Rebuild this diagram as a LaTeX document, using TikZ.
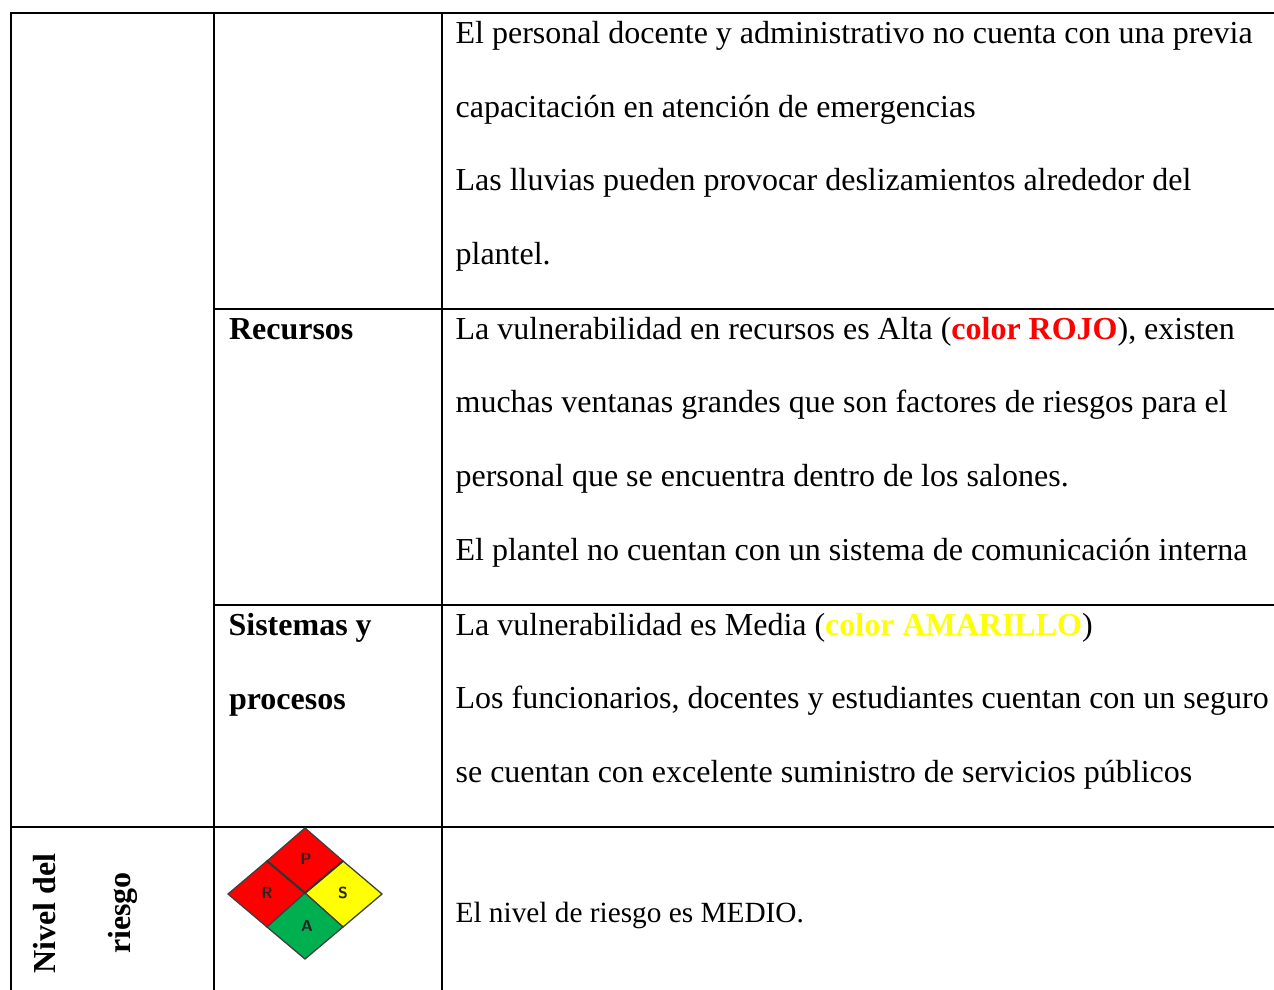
\documentclass[tikz,border=0pt]{standalone}
\usepackage{fontspec}
\setmainfont{Liberation Serif}
\definecolor{rojo}{RGB}{255,0,0}
\definecolor{amar}{RGB}{255,255,0}
\definecolor{verde}{RGB}{0,176,80}
\begin{document}
\begin{tikzpicture}[x=1pt,y=-1pt,
  rule/.style={draw=black,line width=2pt},
  body/.style={anchor=base west,inner sep=0pt,outer sep=0pt,font=\fontsize{32}{32}\selectfont},
  head/.style={anchor=base west,inner sep=0pt,outer sep=0pt,font=\fontsize{32}{32}\selectfont\bfseries},
  small/.style={anchor=base west,inner sep=0pt,outer sep=0pt,font=\fontsize{29.3}{30}\selectfont},
  vert/.style={rotate=90,anchor=base,inner sep=0pt,outer sep=0pt,font=\fontsize{32}{32}\selectfont\bfseries},
  cell/.style={draw=black!75,line width=1.3pt},
  letter/.style={inner sep=0pt,font=\sffamily\bfseries\fontsize{16}{16}\selectfont,text=black!85}]
\useasboundingbox (0,0) rectangle (1274,990);
\fill[white] (0,0) rectangle (1274,990);
% grid
\coordinate (tl) at (11,13); \coordinate (tr) at (1274,13);
\coordinate (ll) at (11,990);
\coordinate (ma) at (214,13); \coordinate (mb) at (214,990);
\coordinate (na) at (442,13); \coordinate (nb) at (442,990);
\coordinate (r1a) at (214,308.5); \coordinate (r1b) at (1274,308.5);
\coordinate (r2a) at (214,604.5); \coordinate (r2b) at (1274,604.5);
\coordinate (r3a) at (11,827); \coordinate (r3b) at (1274,827);
\draw[rule,line cap=rect] (tl) -- (tr);
\draw[rule] (tl) -- (ll);
\draw[rule] (ma) -- (mb);
\draw[rule] (na) -- (nb);
\draw[rule] (r1a) -- (r1b);
\draw[rule] (r2a) -- (r2b);
\draw[rule] (r3a) -- (r3b);
% text
\node[body] (t1) at (455.6,44) {El personal docente y administrativo no cuenta con una previa};
\node[body] (t2) at (455.6,117.2) {capacitación en atención de emergencias};
\node[body] (t3) at (455.6,190.3) {Las lluvias pueden provocar deslizamientos alrededor del};
\node[body] (t4) at (455.6,264.3) {plantel.};
\node[head] (h1) at (229,339.3) {Recursos};
\node[body] (t5) at (455.6,339.3) {La vulnerabilidad en recursos es Alta ({\bfseries\color{rojo}color ROJO}), existen};
\node[body] (t6) at (455.6,412.3) {muchas ventanas grandes que son factores de riesgos para el};
\node[body] (t7) at (455.6,486.3) {personal que se encuentra dentro de los salones.};
\node[body] (t8) at (455.6,560.3) {El plantel no cuentan con un sistema de comunicación interna};
\node[head] (h2) at (228.6,635.3) {Sistemas y};
\node[head] (h3) at (229,709.3) {procesos};
\node[body] (t9) at (455.6,635.3) {La vulnerabilidad es Media ({\bfseries\color{amar}color AMARILLO})};
\node[body] (t10) at (455.6,708.3) {Los funcionarios, docentes y estudiantes cuentan con un seguro};
\node[body] (t11) at (455.6,782.3) {se cuentan con excelente suministro de servicios públicos};
\node[small] (t12) at (455.6,922) {El nivel de riesgo es MEDIO.};
\node[vert] (v1) at (55,913.4) {Nivel del};
\node[vert] (v2) at (130,913) {riesgo};
% diamond
\coordinate (top) at (305,828); \coordinate (lft) at (228,894);
\coordinate (rgt) at (382,894); \coordinate (bot) at (305,959);
\coordinate (cen) at (305,893);
\coordinate (tlm) at (267,861); \coordinate (trm) at (343,861);
\coordinate (blm) at (267,927); \coordinate (brm) at (343,927);
\filldraw[cell,fill=rojo] (top) -- (trm) -- (cen) -- (tlm) -- cycle;
\filldraw[cell,fill=rojo] (tlm) -- (cen) -- (blm) -- (lft) -- cycle;
\filldraw[cell,fill=amar] (trm) -- (rgt) -- (brm) -- (cen) -- cycle;
\filldraw[cell,fill=verde] (cen) -- (brm) -- (bot) -- (blm) -- cycle;
\draw[draw=black!80,line width=2pt] (tlm) -- (cen) -- (trm);
\node[letter] (lp) at (306,859) {P};
\node[letter] (lr) at (267,893) {R};
\node[letter] (ls) at (343,893) {S};
\node[letter] (la) at (307,926) {A};
\end{tikzpicture}
\end{document}
